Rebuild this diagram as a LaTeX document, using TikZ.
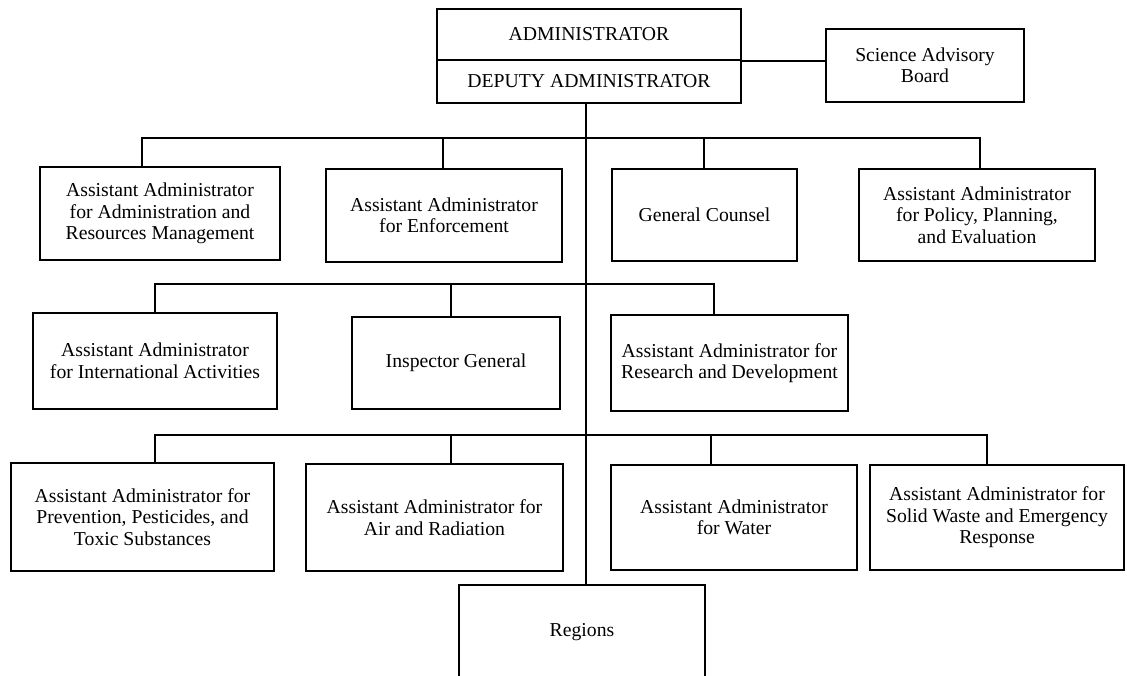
\documentclass[tikz,border=0pt]{standalone}
\usepackage{fontspec}
\setmainfont{Liberation Serif}
\begin{document}
\begin{tikzpicture}[x=1pt,y=-1pt,
  box/.style={draw, line width=2.4pt, inner sep=0pt, align=center, fill=white,
    font=\fontsize{19.7}{21.5}\selectfont},
  conn/.style={line width=1.8pt}]
\useasboundingbox (0,0) rectangle (1127,675);
\clip (0,0) rectangle (1127,675);
% coordinates for the connector lines
\coordinate (spine) at (586,0);
\coordinate (a1) at (142,138); \coordinate (a2) at (443,138);
\coordinate (a3) at (704,138); \coordinate (a4) at (980,138);
\coordinate (b1) at (155,284); \coordinate (b2) at (451,284);
\coordinate (b3) at (714,284);
\coordinate (c1) at (155,435); \coordinate (c2) at (451,435);
\coordinate (c3) at (711,435); \coordinate (c4) at (987,435);
% boxes
\node[box, minimum width=304pt, minimum height=51pt] (admin) at (589,34.5) {ADMINISTRATOR};
\node[box, minimum width=304pt, minimum height=43pt] (deputy) at (589,81.5) {DEPUTY ADMINISTRATOR};
\node[box, minimum width=198pt, minimum height=73pt] (sab) at (925,65.5) {Science Advisory\\Board};
\node[box, minimum width=240pt, minimum height=93pt] (aarm) at (160,213.5) {Assistant Administrator\\for Administration and\\Resources Management};
\node[box, minimum width=236pt, minimum height=93pt] (enf) at (444,215.5) {Assistant Administrator\\for Enforcement};
\node[box, minimum width=185pt, minimum height=92pt] (gc) at (704.5,215) {General Counsel};
\node[box, minimum width=236pt, minimum height=92pt] (ppe) at (977,215) {Assistant Administrator\\for Policy, Planning,\\and Evaluation};
\node[box, minimum width=244pt, minimum height=96pt] (intl) at (155,361) {Assistant Administrator\\for International Activities};
\node[box, minimum width=208pt, minimum height=92pt] (ig) at (456,363) {Inspector General};
\node[box, minimum width=237pt, minimum height=96pt] (rd) at (729.5,363) {Assistant Administrator for\\Research and Development};
\node[box, minimum width=263pt, minimum height=108pt] (ppts) at (142.5,517) {Assistant Administrator for\\Prevention, Pesticides, and\\Toxic Substances};
\node[box, minimum width=257pt, minimum height=107pt] (air) at (434.5,517.5) {Assistant Administrator for\\Air and Radiation};
\node[box, minimum width=246pt, minimum height=105pt] (water) at (734,517.5) {Assistant Administrator\\for Water};
\node[box, minimum width=254pt, minimum height=105pt] (swer) at (997,517.5) {Assistant Administrator for\\Solid Waste and Emergency\\Response};
\node[box, minimum width=246pt, minimum height=94pt] (regions) at (582,632) {Regions};
% connectors
\draw[conn] (admin.south east) -- (sab.west |- admin.south east);
\draw[conn] (spine |- deputy.south) -- (spine |- regions.north);
\draw[conn] (a1 |- aarm.north) -- (a1) -- (a4) -- (a4 |- ppe.north);
\draw[conn] (a2) -- (a2 |- enf.north);
\draw[conn] (a3) -- (a3 |- gc.north);
\draw[conn] (b1 |- intl.north) -- (b1) -- (b3) -- (b3 |- rd.north);
\draw[conn] (b2) -- (b2 |- ig.north);
\draw[conn] (c1 |- ppts.north) -- (c1) -- (c4) -- (c4 |- swer.north);
\draw[conn] (c2) -- (c2 |- air.north);
\draw[conn] (c3) -- (c3 |- water.north);
\end{tikzpicture}
\end{document}
